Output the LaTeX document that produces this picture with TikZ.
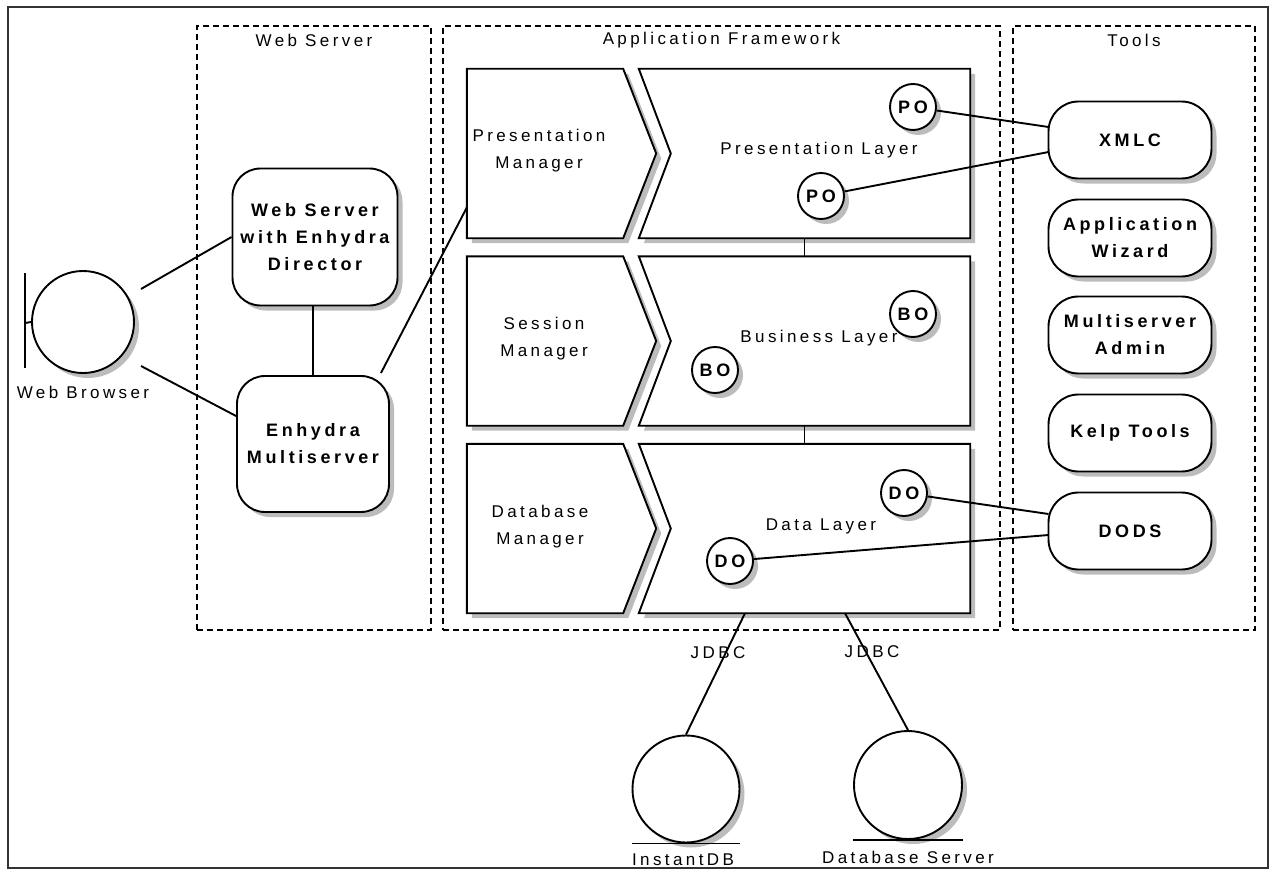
\documentclass[tikz,border=0pt]{standalone}
\usepackage{fontspec}
\setmainfont{Liberation Sans}[LetterSpace=20]
\usetikzlibrary{shadows,backgrounds,calc}
\begin{document}
\begin{tikzpicture}[x=1pt,y=-1pt,
  every node/.style={font=\fontsize{17}{27}\selectfont},
  line/.style={line width=1.9pt, draw=black},
  shad/.style={drop shadow={shadow xshift=5pt,shadow yshift=-5pt,fill=black!35,opacity=0.75}},
  group/.style={draw, line width=1.4pt, dash pattern=on 6pt off 4pt, inner sep=0pt},
  rbox/.style={draw, line width=1.9pt, fill=white, rounded corners=28pt, shad, align=center,
    font=\bfseries\fontsize{18}{27}\selectfont, inner sep=0pt},
  pill/.style={rbox, minimum width=163pt, minimum height=77pt, rounded corners=30pt},
  obj/.style={circle, draw, line width=1.9pt, fill=white, shad, minimum size=46pt, inner sep=0pt,
    font=\bfseries\fontsize{18}{20}\selectfont},
  area/.style={draw=none, inner sep=0pt, minimum height=169pt},
  lbl/.style={align=center},
  dbc/.style={circle, draw, line width=1.9pt, fill=white, shad, inner sep=0pt},
]
\useasboundingbox (0,0) rectangle (1272,872);
\draw[line width=1.5pt, black!80] (8,7) rectangle (1268,868);

% groups
\node[group, minimum width=234pt, minimum height=604pt] (ws) at (314,328) {};
\node (wst) at ($(ws.north)+(0,15)$) {Web Server};
\node[group, minimum width=557pt, minimum height=604pt] (af) at (721.5,328) {};
\node (aft) at ($(af.north)+(0,15)$) {Application Framework};
\node[group, minimum width=242pt, minimum height=604pt] (tl) at (1134,328) {};
\node (tlt) at ($(tl.north)+(0,15)$) {Tools};

% web browser
\node[dbc, minimum size=102pt] (wb) at (83,322) {};
\coordinate (bartop) at ($(wb.west)+(-6,-49)$);
\coordinate (barbot) at ($(wb.west)+(-6,46)$);
\draw[line] (bartop) -- (barbot);
\draw[line] ($(wb.west)+(-6,1)$) -- (wb.west);
\node (wbl) at (83,392) {Web Browser};

% web server boxes
\node[rbox, minimum width=165pt, minimum height=137pt] (dir) at (315,237) {Web Server\\with Enhydra\\Director};
\node[rbox, minimum width=152pt, minimum height=136pt] (ms) at (313,444) {Enhydra\\Multiserver};

% manager / layer areas
\node[area, minimum width=156pt] (pm) at (545,153.5) {};
\node[area, minimum width=331pt] (pl) at (804.5,153.5) {};
\node[area, minimum width=156pt] (sm) at (545,341) {};
\node[area, minimum width=331pt] (bl) at (804.5,341) {};
\node[area, minimum width=156pt] (dm) at (545,528.5) {};
\node[area, minimum width=331pt] (dl) at (804.5,528.5) {};

\begin{scope}[on background layer]
  \foreach \n in {pm,sm,dm}
    \draw[line, fill=white, shad] (\n.north west) -- (\n.north east) -- ($(\n.east)+(33,0)$)
      -- (\n.south east) -- (\n.south west) -- cycle;
  \foreach \n in {pl,bl,dl}
    \draw[line, fill=white, shad] (\n.north west) -- (\n.north east) -- (\n.south east)
      -- (\n.south west) -- ($(\n.west)+(32,0)$) -- cycle;
\end{scope}

\node[lbl] (pmt) at (539,151) {Presentation\\Manager};
\node[lbl] (smt) at (544,339) {Session\\Manager};
\node[lbl] (dmt) at (540,527) {Database\\Manager};
\node (plt) at (819,150) {Presentation Layer};
\node (blt) at (819,338) {Business Layer};
\node (dlt) at (821,526) {Data Layer};

% objects
\node[obj] (po1) at (913,107) {PO};
\node[obj] (po2) at (821,196) {PO};
\node[obj] (bo1) at (913,314) {BO};
\node[obj] (bo2) at (715,370) {BO};
\node[obj] (do1) at (904,493) {DO};
\node[obj] (do2) at (730,561) {DO};

% tools
\node[pill] (xmlc) at (1130,140) {XMLC};
\node[pill] (aw) at (1130,238) {Application\\Wizard};
\node[pill] (msa) at (1130,335) {Multiserver\\Admin};
\node[pill] (kelp) at (1130,433) {Kelp Tools};
\node[pill] (dods) at (1130,531) {DODS};

% databases
\node[dbc, minimum size=107pt] (idb) at (686,789) {};
\node[dbc, minimum size=108pt] (dbs) at (908,785) {};
\draw[line] ($(idb.south)+(-54,0)$) -- ($(idb.south)+(54,0)$);
\draw[line] ($(dbs.south)+(-55,0)$) -- ($(dbs.south)+(55,0)$);
\node (idbl) at (683,860) {InstantDB};
\node (dbsl) at (908,857) {Database Server};

% connectors
\draw[line] ($(wb)+(58,-33)$) -- (dir.west);
\draw[line] ($(wb)+(58,44)$) -- ($(ms.west)+(0,-28)$);
\draw[line] (ms.north) -- (ms.north |- dir.south);
\draw[line] ($(ms.north east)+(-9,-2)$) -- ($(pm.west)+(0,54)$);
\draw[line] (pl.south) -- (bl.north);
\draw[line] (bl.south) -- (dl.north);
\draw[line] (po1) -- ($(xmlc.west)+(1,-13)$);
\draw[line] (po2) -- ($(xmlc.west)+(1,12)$);
\draw[line] (do1) -- ($(dods.west)+(1,-17)$);
\draw[line] (do2) -- ($(dods.west)+(1,4)$);
\draw[line] ($(dl.south)+(-59.5,0)$) -- (idb.north);
\draw[line] ($(dl.south)+(40.5,0)$) -- (dbs.north);
\node (j1) at (718,653) {JDBC};
\node (j2) at (872,652) {JDBC};
\end{tikzpicture}
\end{document}
